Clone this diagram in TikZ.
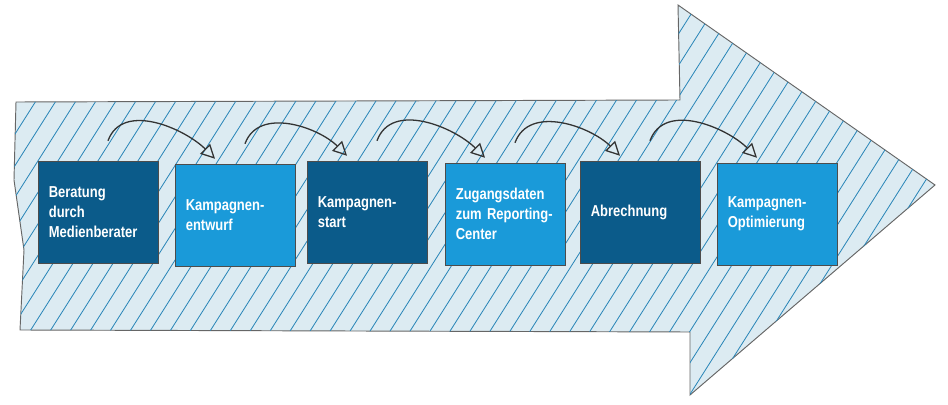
\documentclass[tikz,border=0pt]{standalone}
\usepackage{fontspec}
\setmainfont{Liberation Sans}
\newfontfamily\narrowfont[FakeStretch=0.82]{Liberation Sans}
\usetikzlibrary{arrows.meta}
\definecolor{darkbox}{HTML}{0B5B8A}
\definecolor{lightbox}{HTML}{1A9AD9}
\definecolor{arrowfill}{HTML}{DCEBF2}
\definecolor{hatch}{HTML}{2A86B8}

\begin{document}
\begin{tikzpicture}[x=0.03cm,y=-0.03cm]
	\tikzset{stage/.style={minimum width=3.6cm, minimum height=3.06cm, text width=2.95cm,
			draw=black!70, thin, text=white, font=\narrowfont\bfseries\fontsize{13.5}{17}\selectfont, align=left},
		dark/.style={stage, fill=darkbox},
		light/.style={stage, fill=lightbox},
		hop/.style={draw=black!80, line width=1.1pt, -{Triangle[open, length=12pt, width=12pt]}}}
	\useasboundingbox (0,0) rectangle (948,405);
	% big arrow with hatching
	\filldraw [fill=arrowfill, draw=black!60, line width=0.8pt]
		(16,102) -- (680,100) -- (678,5) -- (935,185) -- (690,395) -- (690,332)
		-- (20,330) -- (24,250) -- (14,180) -- cycle;
	\begin{scope}
		\clip (16,102) -- (680,100) -- (678,5) -- (935,185) -- (690,395) -- (690,332)
			-- (20,330) -- (24,250) -- (14,180) -- cycle;
		\foreach \s in {-220,-200,...,960}
			\draw [hatch, line width=0.7pt] (\s,410) -- (\s+260,0);
	\end{scope}
	% stages
		\node[dark]  (s1) at (98,212)  {Beratung\\durch\\Medienberater};
		\node[light] (s2) at (235,215) {Kampagnen-\\entwurf};
		\node[dark]  (s3) at (367,212) {Kampagnen-\\start};
		\node[light] (s4) at (505,214) {Zugangsdaten\\zum Reporting-\\Center};
		\node[dark]  (s5) at (640,212) {Abrechnung};
		\node[light] (s6) at (777,214) {Kampagnen-\\Optimierung};
	% hops
	\foreach \a/\b in {s1/s2,s2/s3,s3/s4,s4/s5,s5/s6}
		\draw [hop] ([xshift=0.3cm,yshift=0.6cm]\a.north) to[out=70, in=135]
			([xshift=-0.6cm,yshift=0.15cm]\b.north);
\end{tikzpicture}
\end{document}
